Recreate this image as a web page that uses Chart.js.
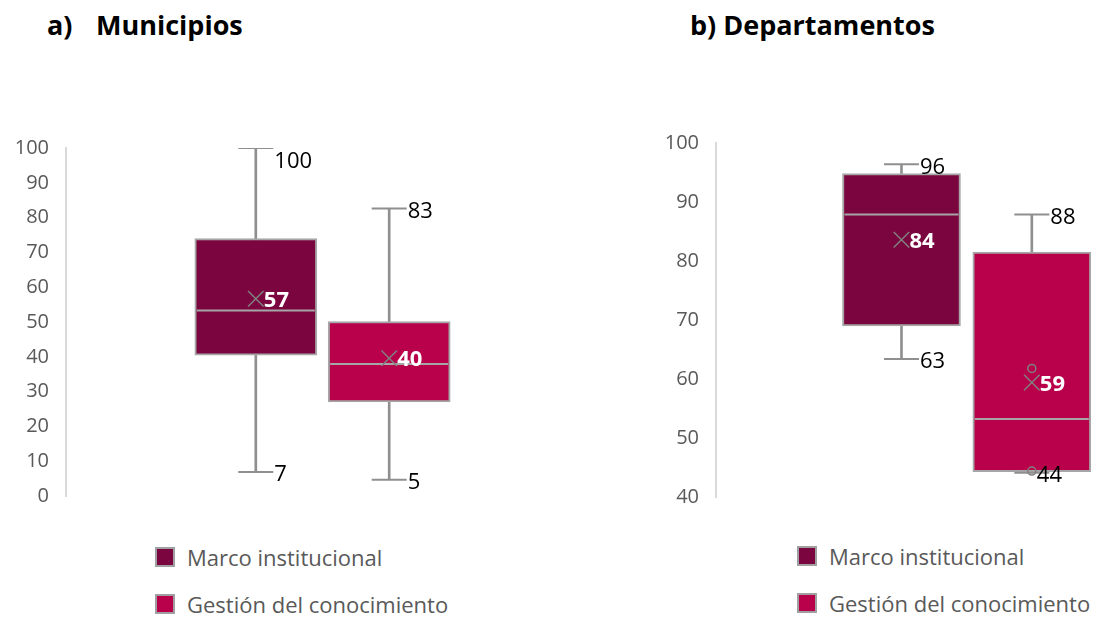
<!DOCTYPE html>
<html>
<head>
<meta charset="utf-8">
<script src="https://cdn.jsdelivr.net/npm/chart.js"></script>
<style>
  body { margin: 0; width: 1102px; height: 617px; position: relative; overflow: hidden; background: #fff; font-family: "Open Sans", sans-serif; }
  .title { position: absolute; top: 11px; font-size: 27px; line-height: 27px; font-weight: 700; color: #000; white-space: nowrap; }
  canvas { position: absolute; }
  .legend-item { position: absolute; height: 30px; line-height: 30px; font-size: 22px; color: #595959; white-space: nowrap; }
  .legend-item span.swatch { position: absolute; left: 0; top: 5px; width: 20px; height: 20px; box-sizing: border-box; border: 2px solid #a0a0a0; }
  .legend-item span.text { position: absolute; left: 32px; top: 0; }
</style>
</head>
<body>
<div class="title" style="left:47px">a)</div>
<div class="title" style="left:96px">Municipios</div>
<div class="title" style="left:690px">b) Departamentos</div>

<canvas id="munChart" width="600" height="400" style="left:0;top:120px"></canvas>
<canvas id="depChart" width="462" height="400" style="left:640px;top:120px"></canvas>

<div id="munLegend"></div>
<div id="depLegend"></div>

<script>
const seriesNames = ['Marco institucional', 'Gestión del conocimiento'];
const seriesColors = ['#7B053E', '#B8004B'];

// a) Municipios
const munLow = [6.9, 4.7];
const munQ1 = [40.5, 27.0];
const munMedian = [53.3, 37.9];
const munQ3 = [74.0, 50.1];
const munHigh = [100, 82.6];
const munMean = [56.7, 39.6];
const munOutliers = [[], []];
const munTicks = [0, 10, 20, 30, 40, 50, 60, 70, 80, 90, 100];

// b) Departamentos
const depLow = [63.4, 44.1];
const depQ1 = [69.0, 44.3];
const depMedian = [87.9, 53.2];
const depQ3 = [94.8, 81.5];
const depHigh = [96.4, 87.9];
const depMean = [83.6, 59.4];
const depOutliers = [[], [61.8, 44.4]];
const depTicks = [40, 50, 60, 70, 80, 90, 100];

const boxBorder = '#a6a6a6';
const whiskerColor = '#8f8f8f';
const meanColor = '#808080';

const makeBoxChart = function (canvasId, d, layout) {
    const n = seriesNames.length;
    const xOf = i => (i - (n - 1) / 2) * 2 * layout.spread;
    const datasets = [];

    for (let i = 0; i < n; i++) {
        const x = xOf(i);
        // whisker line, behind the box
        datasets.push({
            type: 'bar', grouped: false, order: 6,
            data: [{x: x, y: [d.low[i], d.high[i]]}],
            backgroundColor: whiskerColor, borderWidth: 0, barThickness: 2
        });
        // box q1..q3
        datasets.push({
            type: 'bar', grouped: false, order: 5, label: seriesNames[i],
            data: [{x: x, y: [d.q1[i], d.q3[i]]}],
            backgroundColor: seriesColors[i], borderColor: boxBorder,
            borderWidth: 2, borderSkipped: false, barThickness: layout.boxWidth
        });
        // whisker caps
        datasets.push({
            type: 'scatter', order: 4,
            data: [{x: x, y: d.low[i]}, {x: x, y: d.high[i]}],
            pointStyle: 'line', pointRadius: layout.cap, borderColor: whiskerColor, borderWidth: 2
        });
        // median
        datasets.push({
            type: 'scatter', order: 3,
            data: [{x: x, y: d.median[i]}],
            pointStyle: 'line', pointRadius: layout.boxWidth / 2 - 2, borderColor: boxBorder, borderWidth: 2
        });
        // mean
        datasets.push({
            type: 'scatter', order: 2,
            data: [{x: x, y: d.mean[i]}],
            pointStyle: 'crossRot', pointRadius: 11, borderColor: meanColor, borderWidth: 1.5
        });
        // single points
        datasets.push({
            type: 'scatter', order: 1,
            data: d.outliers[i].map(v => ({x: x, y: v})),
            pointStyle: 'circle', pointRadius: 4, backgroundColor: 'rgba(0,0,0,0)',
            borderColor: meanColor, borderWidth: 1.5
        });
    }

    const labelPlugin = {
        id: 'boxLabels',
        afterDatasetsDraw: function (chart) {
            const ctx = chart.ctx;
            const xs = chart.scales.x;
            const ys = chart.scales.y;
            ctx.save();
            ctx.textBaseline = 'middle';
            ctx.textAlign = 'left';
            for (let i = 0; i < n; i++) {
                const px = xs.getPixelForValue(xOf(i));
                ctx.font = '22px "Open Sans"';
                ctx.fillStyle = '#000';
                [d.high[i], d.low[i]].forEach(function (v) {
                    const py = Math.max(ys.getPixelForValue(v) + 3, chart.chartArea.top + 14);
                    let lx = px + layout.cap + 1;
                    if (d.outliers[i].some(o => Math.round(o) === Math.round(v))) {
                        lx = px + 5;
                    }
                    ctx.fillText(String(Math.round(v)), lx, py);
                });
                ctx.font = 'bold 22px "Open Sans"';
                ctx.fillStyle = '#fff';
                ctx.fillText(String(Math.round(d.mean[i])), px + 8, ys.getPixelForValue(d.mean[i]) + 2);
            }
            ctx.restore();
        }
    };

    return new Chart(document.getElementById(canvasId), {
        type: 'bar',
        data: {datasets: datasets},
        options: {
            responsive: false,
            animation: false,
            events: [],
            layout: {padding: layout.padding, autoPadding: false},
            plugins: {legend: {display: false}, tooltip: {enabled: false}},
            scales: {
                x: {
                    type: 'linear', display: false, offset: false,
                    min: layout.xMin, max: layout.xMax
                },
                y: {
                    min: d.ticks[0], max: d.ticks[d.ticks.length - 1],
                    afterBuildTicks: function (s) { s.ticks = d.ticks.map(v => ({value: v})); },
                    afterFit: function (s) {
                        s.width = layout.axisWidth;
                        s.paddingTop = 0;
                        s.paddingBottom = 0;
                    },
                    grid: {display: false, drawTicks: false},
                    border: {display: true, color: '#d9d9d9', width: 2},
                    ticks: {color: '#595959', padding: 17, font: {family: 'Open Sans', size: 20}}
                }
            }
        },
        plugins: [labelPlugin]
    });
};

const buildLegend = function (id, left, centers) {
    const holder = document.getElementById(id);
    seriesNames.forEach(function (name, i) {
        const item = document.createElement('div');
        item.className = 'legend-item';
        item.style.left = left + 'px';
        item.style.top = (centers[i] - 15) + 'px';
        item.innerHTML = '<span class="swatch" style="background:' + seriesColors[i] + '"></span>' +
            '<span class="text">' + name + '</span>';
        holder.appendChild(item);
    });
};

makeBoxChart('munChart',
    {low: munLow, q1: munQ1, median: munMedian, q3: munQ3, high: munHigh, mean: munMean, outliers: munOutliers, ticks: munTicks},
    {axisWidth: 66, xMin: -1, xMax: 1, spread: 0.26, boxWidth: 122, cap: 17.5,
     padding: {top: 28, bottom: 24, right: 21, left: 0}});

makeBoxChart('depChart',
    {low: depLow, q1: depQ1, median: depMedian, q3: depQ3, high: depHigh, mean: depMean, outliers: depOutliers, ticks: depTicks},
    {axisWidth: 76, xMin: -1, xMax: 0.54, spread: 0.26, boxWidth: 118, cap: 17.5,
     padding: {top: 23, bottom: 23, right: 0, left: 0}});

buildLegend('munLegend', 155, [557, 604]);
buildLegend('depLegend', 797, [556, 603]);
</script>
</body>
</html>
